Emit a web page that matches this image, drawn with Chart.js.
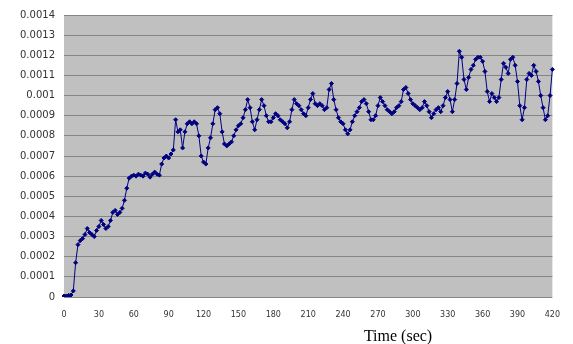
<!DOCTYPE html>
<html>
<head>
<meta charset="utf-8">
<script src="https://cdn.jsdelivr.net/npm/chart.js@4/dist/chart.umd.min.js"></script>
<style>
  html, body { margin: 0; padding: 0; background: #ffffff; }
  #wrap { width: 573px; height: 344px; position: relative; }
</style>
</head>
<body>
<div id="wrap"><canvas id="c" width="573" height="344"></canvas></div>
<script>
// Sampling interval of the measurement, seconds
const sampleStep = 2;

// Measured value at every sample (0 s .. 420 s)
const values = [
  0.05e-4, 0.05e-4, 0.08e-4, 0.1e-4, 0.3e-4, 1.7e-4, 2.6e-4, 2.8e-4, 2.9e-4, 3.1e-4,
  3.4e-4, 3.2e-4, 3.1e-4, 3.0e-4, 3.3e-4, 3.5e-4, 3.8e-4, 3.6e-4, 3.4e-4, 3.5e-4,
  3.8e-4, 4.2e-4, 4.3e-4, 4.1e-4, 4.2e-4, 4.4e-4, 4.8e-4, 5.4e-4, 5.9e-4, 6.0e-4,
  6.05e-4, 6.0e-4, 6.1e-4, 6.05e-4, 6.0e-4, 6.15e-4, 6.1e-4, 5.95e-4, 6.1e-4, 6.2e-4,
  6.1e-4, 6.05e-4, 6.6e-4, 6.9e-4, 7.0e-4, 6.9e-4, 7.1e-4, 7.3e-4, 8.8e-4, 8.2e-4,
  8.3e-4, 7.4e-4, 8.2e-4, 8.6e-4, 8.7e-4, 8.6e-4, 8.7e-4, 8.6e-4, 8.0e-4, 7.0e-4,
  6.7e-4, 6.6e-4, 7.4e-4, 7.9e-4, 8.6e-4, 9.3e-4, 9.4e-4, 9.1e-4, 8.2e-4, 7.6e-4,
  7.5e-4, 7.6e-4, 7.7e-4, 8.0e-4, 8.3e-4, 8.5e-4, 8.6e-4, 8.9e-4, 9.3e-4, 9.8e-4,
  9.4e-4, 8.7e-4, 8.3e-4, 8.8e-4, 9.3e-4, 9.8e-4, 9.5e-4, 9.0e-4, 8.7e-4, 8.7e-4,
  8.9e-4, 9.1e-4, 9.0e-4, 8.8e-4, 8.7e-4, 8.6e-4, 8.4e-4, 8.7e-4, 9.3e-4, 9.8e-4,
  9.6e-4, 9.5e-4, 9.3e-4, 9.1e-4, 9.0e-4, 9.4e-4, 9.8e-4, 10.1e-4, 9.6e-4, 9.5e-4,
  9.6e-4, 9.5e-4, 9.3e-4, 9.4e-4, 10.3e-4, 10.6e-4, 9.8e-4, 9.3e-4, 8.9e-4, 8.7e-4,
  8.6e-4, 8.3e-4, 8.1e-4, 8.3e-4, 8.7e-4, 9.0e-4, 9.2e-4, 9.4e-4, 9.7e-4, 9.8e-4,
  9.6e-4, 9.2e-4, 8.8e-4, 8.8e-4, 9.0e-4, 9.5e-4, 9.9e-4, 9.7e-4, 9.5e-4, 9.3e-4,
  9.2e-4, 9.1e-4, 9.2e-4, 9.4e-4, 9.5e-4, 9.7e-4, 10.3e-4, 10.4e-4, 10.1e-4, 9.8e-4,
  9.6e-4, 9.5e-4, 9.4e-4, 9.3e-4, 9.4e-4, 9.7e-4, 9.5e-4, 9.2e-4, 8.9e-4, 9.1e-4,
  9.3e-4, 9.4e-4, 9.2e-4, 9.5e-4, 9.9e-4, 10.2e-4, 9.8e-4, 9.2e-4, 9.8e-4, 10.6e-4,
  12.2e-4, 11.9e-4, 10.8e-4, 10.3e-4, 10.9e-4, 11.3e-4, 11.5e-4, 11.8e-4, 11.9e-4, 11.9e-4,
  11.7e-4, 11.2e-4, 10.2e-4, 9.7e-4, 10.1e-4, 9.9e-4, 9.7e-4, 9.9e-4, 10.8e-4, 11.6e-4,
  11.4e-4, 11.1e-4, 11.8e-4, 11.9e-4, 11.5e-4, 10.7e-4, 9.5e-4, 8.8e-4, 9.4e-4, 10.8e-4,
  11.1e-4, 11.0e-4, 11.5e-4, 11.2e-4, 10.7e-4, 10.0e-4, 9.4e-4, 8.8e-4, 9.0e-4, 10.0e-4,
  11.3e-4
];

// Sample times, seconds
const times = values.map((_, i) => i * sampleStep);

// Labelled times on the horizontal axis
const xTickLabels = [0, 30, 60, 90, 120, 150, 180, 210, 240, 270, 300, 330, 360, 390, 420];

// Labels on the vertical axis, bottom to top
const yTickLabels = ['0', '0.0001', '0.0002', '0.0003', '0.0004', '0.0005', '0.0006', '0.0007',
  '0.0008', '0.0009', '0.001', '0.0011', '0.0012', '0.0013', '0.0014'];

const xAxisTitle = 'Time (sec)';

// Grey plot-area fill and the axis title below the time labels
const plotDecor = {
  id: 'plotDecor',
  beforeDraw(chart) {
    const { ctx, chartArea: a } = chart;
    ctx.save();
    ctx.fillStyle = '#c0c0c0';
    ctx.fillRect(a.left, a.top, a.right - a.left, a.bottom - a.top);
    ctx.restore();
  },
  afterDraw(chart) {
    const { ctx, chartArea: a } = chart;
    ctx.save();
    ctx.font = '16px "Liberation Serif", "Times New Roman", serif';
    ctx.fillStyle = '#000000';
    ctx.textAlign = 'center';
    ctx.textBaseline = 'middle';
    ctx.fillText(xAxisTitle, a.left + (a.right - a.left) * 0.684, a.bottom + 40);
    ctx.restore();
  }
};

new Chart(document.getElementById('c'), {
  type: 'line',
  data: {
    labels: times,
    datasets: [{
      data: values,
      borderColor: '#000080',
      backgroundColor: '#000080',
      borderWidth: 1,
      pointStyle: 'rectRot',
      pointRadius: 2,
      pointBorderWidth: 1,
      pointBackgroundColor: '#000080',
      pointBorderColor: '#000080',
      tension: 0,
      fill: false
    }]
  },
  options: {
    responsive: false,
    animation: false,
    devicePixelRatio: 1,
    layout: { padding: { top: 12, right: 16, left: 0, bottom: 0 } },
    plugins: {
      legend: { display: false },
      tooltip: { enabled: false }
    },
    scales: {
      x: {
        type: 'category',
        offset: false,
        grid: { display: false, drawTicks: false },
        border: { display: false },
        afterFit(scale) { scale.height = 47; },
        ticks: {
          autoSkip: false,
          maxRotation: 0,
          minRotation: 0,
          padding: 13,
          color: '#333333',
          font: { family: '"DejaVu Sans", sans-serif', size: 8 },
          callback(value) {
            const t = Number(this.getLabelForValue(value));
            return xTickLabels.includes(t) ? String(t) : '';
          }
        }
      },
      y: {
        min: 0,
        max: 0.0014,
        afterFit(scale) { scale.width = 64; },
        grid: { color: '#858585', lineWidth: 1, drawTicks: false },
        border: { display: false },
        ticks: {
          stepSize: 0.0001,
          padding: 9,
          color: '#333333',
          font: { family: '"DejaVu Sans", sans-serif', size: 10 },
          callback(value, index) { return yTickLabels[index]; }
        }
      }
    }
  },
  plugins: [plotDecor]
});
</script>
</body>
</html>
